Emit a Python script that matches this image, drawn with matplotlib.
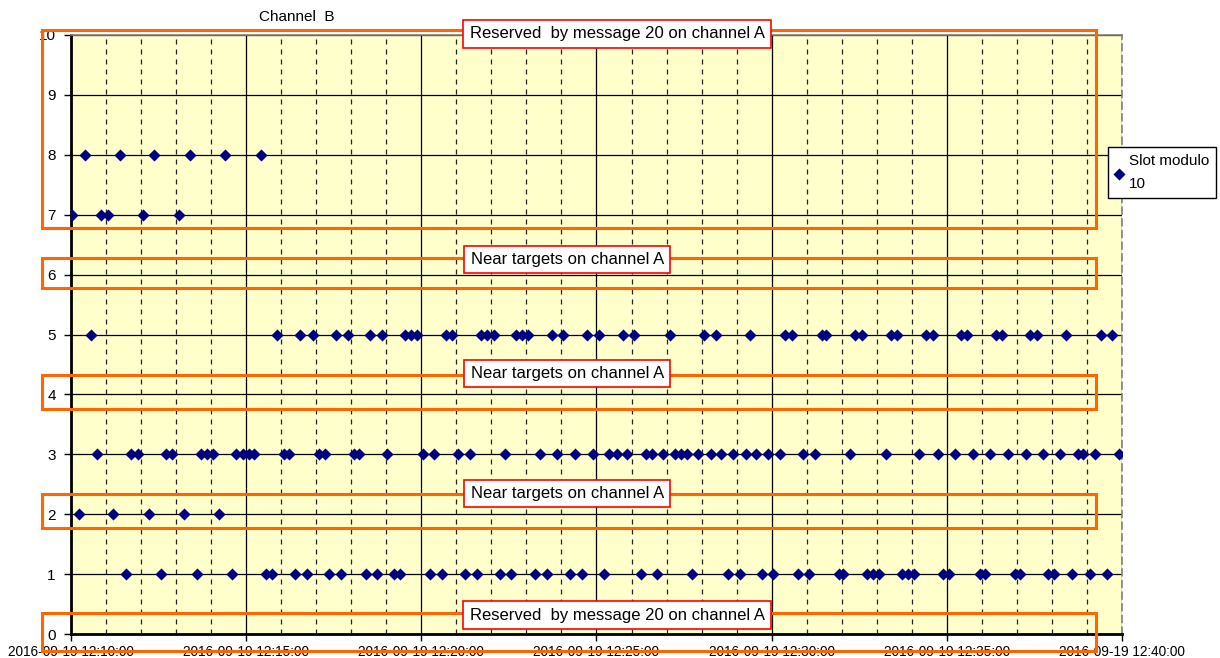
import matplotlib
matplotlib.use("Agg")
import matplotlib.pyplot as plt
import matplotlib.dates as mdates
from matplotlib.patches import Rectangle
import pandas as pd

plt.rcParams['font.family'] = ['Liberation Sans', 'DejaVu Sans']

# seconds after 12:10:00 at which each slot (mod 10) was used
start = pd.Timestamp('2016-09-19 12:10:00')
end = pd.Timestamp('2016-09-19 12:40:00')
sec_slot8 = [24, 84, 142, 204, 264, 325]
sec_slot7 = [2, 52, 63, 123, 185]
sec_slot5 = [34, 353, 392, 414, 454, 474, 512, 532, 572, 582, 592, 643, 652, 702, 713, 725,
             762, 772, 783, 823, 843, 883, 904, 945, 965, 1026, 1084, 1104, 1163, 1223, 1234,
             1286, 1293, 1343, 1354, 1404, 1414, 1464, 1476, 1524, 1535, 1585, 1594, 1642,
             1654, 1704, 1764, 1783]
sec_slot3 = [44, 103, 114, 162, 173, 223, 233, 244, 283, 294, 304, 313, 365, 374, 425, 435,
             485, 494, 542, 603, 622, 663, 683, 743, 804, 833, 863, 894, 922, 935, 953, 984,
             995, 1014, 1034, 1045, 1055, 1073, 1096, 1114, 1133, 1156, 1174, 1194, 1214,
             1254, 1274, 1334, 1396, 1453, 1485, 1514, 1544, 1574, 1604, 1635, 1665, 1694,
             1724, 1734, 1753, 1795]
sec_slot2 = [13, 72, 134, 193, 253]
sec_slot1 = [94, 154, 215, 275, 334, 344, 384, 404, 442, 462, 505, 524, 554, 563, 614, 635,
             675, 695, 734, 754, 795, 815, 855, 875, 913, 976, 1003, 1063, 1126, 1145, 1183,
             1203, 1245, 1264, 1316, 1323, 1363, 1373, 1383, 1424, 1434, 1444, 1494, 1504,
             1556, 1565, 1616, 1625, 1674, 1684, 1714, 1745, 1775]

slots = {8: sec_slot8, 7: sec_slot7, 5: sec_slot5, 3: sec_slot3, 2: sec_slot2, 1: sec_slot1}

# reserved / near-target bands (slot range) and their captions
band_low = [6.77, 5.77, 3.75, 1.77, -0.28]
band_high = [10.09, 6.28, 4.32, 2.33, 0.345]
band_text = ['Reserved  by message 20 on channel A', 'Near targets on channel A',
             'Near targets on channel A', 'Near targets on channel A',
             'Reserved  by message 20 on channel A']
band_text_y = [10.02, 6.25, 4.35, 2.345, 0.317]

times, values = [], []
for slot, secs in slots.items():
    for s in secs:
        times.append(start + pd.Timedelta(seconds=s))
        values.append(slot)

fig = plt.figure(figsize=(12.2, 6.58), dpi=100)
ax = fig.add_axes([71 / 1220, 24 / 658, 1051 / 1220, 599 / 658])
ax.set_facecolor('#FFFFCC')

ax.scatter(times, values, marker='D', s=38, color='#000080', zorder=3, label='Slot modulo\n10',
           linewidths=0)

ax.set_xlim(start, end)
ax.set_ylim(0, 10)
ax.set_yticks(range(11))
ax.xaxis.set_major_locator(mdates.MinuteLocator(byminute=range(0, 60, 5)))
ax.xaxis.set_minor_locator(mdates.MinuteLocator())
ax.xaxis.set_major_formatter(mdates.DateFormatter('%Y-%m-%d %H:%M:%S'))
ax.tick_params(axis='x', which='major', labelsize=9.8, length=5, width=1, pad=3)
ax.tick_params(axis='x', which='minor', length=0)
ax.tick_params(axis='y', labelsize=11, length=5, width=1, pad=6)

ax.grid(axis='y', color='black', linewidth=0.9)
ax.grid(axis='x', which='major', color='black', linewidth=0.9)
ax.grid(axis='x', which='minor', color='#222222', linewidth=0.9, linestyle=(0, (4, 4)))
ax.set_axisbelow(True)

for side in ['left', 'bottom']:
    ax.spines[side].set_linewidth(2)
for side in ['top', 'right']:
    ax.spines[side].set_color('#808080')
    ax.spines[side].set_linewidth(1.2)
ax.spines['right'].set_linestyle((0, (4, 3)))

x0 = mdates.date2num(start - pd.Timedelta(minutes=0.83))
x1 = mdates.date2num(start + pd.Timedelta(minutes=29.26))
for lo, hi in zip(band_low, band_high):
    ax.add_patch(Rectangle((x0, lo), x1 - x0, hi - lo, fill=False, edgecolor='#FF6600',
                           linewidth=2.2, clip_on=False, zorder=4))

for txt, ty in zip(band_text, band_text_y):
    cx = start + pd.Timedelta(minutes=15.59 if txt.startswith('Reserved') else 14.17)
    ax.text(cx, ty, txt, ha='center', va='center', fontsize=12, zorder=5, clip_on=False,
            bbox=dict(boxstyle='square,pad=0.38', facecolor='white', edgecolor='red', linewidth=1.2))

ax.text(0.215, 1.03, 'Channel  B', transform=ax.transAxes, ha='center', va='center', fontsize=11)

leg = fig.legend(loc='upper left', bbox_to_anchor=(1108 / 1220, 1 - 147 / 658), fontsize=11,
                 frameon=True, fancybox=False, edgecolor='black', framealpha=1, handlelength=0.6,
                 handletextpad=0.3, borderpad=0.45, borderaxespad=0)
for t in leg.get_texts():
    t.set_linespacing(1.8)

fig.savefig('out.png', dpi=100)
